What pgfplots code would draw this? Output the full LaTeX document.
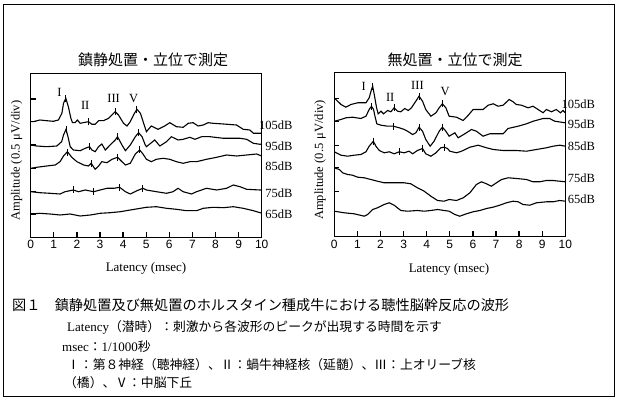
\documentclass[border=0pt]{standalone}
\usepackage{fontspec}
\setmainfont{Liberation Serif}
\newfontfamily\jp{Noto Sans CJK JP}
\newfontfamily\arial{Liberation Sans}
\usepackage{pgfplots}
\pgfplotsset{compat=1.18}
\pgfplotsset{
 ebr/.style={
  scale only axis, width=231bp, height=164bp,
  xmin=0, xmax=10, ymin=73, ymax=237, y dir=reverse,
  xtick={0,...,10}, tick align=inside, xtick pos=bottom, ytick pos=left,
  yticklabels={},
  major tick length=5bp,
  tick style={black, line width=1.3bp},
  axis line style={line width=0.9bp},
  xticklabel style={font=\arial\fontsize{12bp}{12bp}\selectfont},
  /pgf/number format/assume math mode=true,
  clip=false,
 },
 tr/.style={black, line width=1.1bp, mark=none},
 pk/.style={black, only marks, mark=|, mark size=3.5bp, mark options={line width=1bp}},
}
\begin{document}
\begin{tikzpicture}
\useasboundingbox (0,0) rectangle (618bp,400bp);
\draw[line width=0.9bp] (3.5bp,3.5bp) rectangle (614bp,395.5bp);

% ---------------- left panel ----------------
\begin{axis}[ebr, at={(30.7bp,163bp)}, anchor=south west,
  ytick={99,121.7,145,168.3,191.7,214}]
% 105 dB
\addplot[tr] coordinates {(0,121.7)(0.11,121.7)(0.40,120)(0.69,120.7)(0.98,121.3)(1.20,120)(1.35,113.3)(1.42,103.3)(1.52,98.3)(1.63,106.7)(1.74,118.3)(1.81,122.7)(1.92,122.7)(2.02,120)(2.14,123.3)(2.36,122.3)(2.50,121.7)(2.65,124.3)(2.79,124.3)(2.94,120.7)(3.15,120.7)(3.37,118.3)(3.59,113.3)(3.66,111.7)(3.80,115)(4.02,123.3)(4.17,126)(4.31,121.7)(4.49,113.3)(4.60,109.3)(4.75,113.3)(4.89,123.3)(5.01,131.7)(5.22,126)(5.51,129.3)(5.80,126)(6.02,122.7)(6.31,126.7)(6.60,127.3)(6.82,123.3)(7.03,122.7)(7.25,126)(7.47,125)(7.68,122.7)(7.90,123.3)(8.34,124)(8.91,125)(9.20,129.3)(9.49,130)(9.64,133.3)(9.93,133.3)(10,133.3)};
\addplot[pk] coordinates {(1.52,98.3)(2.50,121.7)(3.66,111.7)(4.60,109.3)};
% 95 dB
\addplot[tr] coordinates {(0,145)(0.26,146)(0.69,146.7)(1.13,146)(1.34,141.7)(1.42,135)(1.53,129.3)(1.63,138.3)(1.71,146.7)(1.85,150)(2.14,150.7)(2.36,148.3)(2.55,146.7)(2.65,150)(2.79,151.7)(2.94,146.7)(3.08,144)(3.23,150)(3.44,145)(3.66,140)(3.76,136.7)(3.95,145)(4.10,150.7)(4.31,145)(4.53,136.7)(4.67,132.7)(4.82,136.7)(4.96,145)(5.01,146.7)(5.37,140)(5.59,146)(5.88,141.7)(6.09,136.7)(6.38,140)(6.60,139.3)(6.89,137.3)(7.11,139.3)(7.40,136.7)(7.76,136.7)(8.34,138.3)(9.06,138.3)(9.35,139.3)(9.64,143.3)(9.93,144.3)(10,144)};
\addplot[pk] coordinates {(1.53,129.3)(2.55,146.7)(3.76,136.7)(4.67,132.7)};
% 85 dB
\addplot[tr] coordinates {(0,168.3)(0.26,167.3)(0.69,166)(1.06,165)(1.27,161.7)(1.42,156)(1.59,151.7)(1.78,157.3)(2.00,161.7)(2.29,165)(2.50,166)(2.62,163.3)(2.79,169.3)(2.94,166)(3.08,161.7)(3.30,162.7)(3.52,159.3)(3.76,157.3)(3.95,161.7)(4.10,165)(4.31,163.3)(4.53,154)(4.72,150)(4.86,154)(5.01,159.3)(5.22,161.7)(5.44,159.3)(5.73,158.3)(6.02,159.3)(6.31,161.7)(6.60,163.3)(6.89,161.7)(7.18,161.7)(7.61,159.3)(8.05,157.3)(8.48,155)(8.91,156)(9.35,155)(9.78,154)(10,156)};
\addplot[pk] coordinates {(1.61,152.3)(2.62,163.3)(3.76,157.3)(4.72,150)};
% 75 dB
\addplot[tr] coordinates {(0,191.7)(0.40,192.7)(0.84,193.3)(1.27,194)(1.49,191.7)(1.85,190)(2.07,191.7)(2.36,190)(2.72,191.7)(3.01,190)(3.30,188.3)(3.59,188.3)(3.85,187.3)(4.10,191.7)(4.31,194)(4.60,190.7)(4.86,188.3)(5.01,190)(5.44,191.7)(5.88,193.3)(6.16,191.7)(6.38,188.3)(6.60,191.7)(6.96,194)(7.18,191.7)(7.61,188.3)(8.05,190)(8.48,188.3)(8.77,185)(9.06,186.7)(9.35,189.3)(9.93,190)(10,190)};
\addplot[pk] coordinates {(1.85,190)(2.72,191.7)(3.85,187.3)(4.86,188.3)};
% 65 dB
\addplot[tr] coordinates {(0,214)(0.40,213.3)(0.84,214)(1.27,215)(1.71,214)(2.14,216)(2.58,215)(3.01,213.3)(3.44,212.7)(3.88,211.7)(4.31,210)(4.75,208.3)(5.01,207.3)(5.44,206.7)(5.88,208.3)(6.31,209.3)(6.74,210.7)(7.18,210.7)(7.47,208.3)(7.90,207.3)(8.34,207.7)(8.77,206.7)(9.20,208.3)(9.64,210.7)(9.93,212.7)(10,213)};
\begin{scope}[font=\fontsize{12.5bp}{12.5bp}\selectfont]
\node at (axis cs:1.24,92.7) {I};
\node at (axis cs:2.36,105) {II};
\node at (axis cs:3.59,98.3) {III};
\node at (axis cs:4.46,98.3) {V};
\end{scope}
\begin{scope}[font=\fontsize{12.5bp}{12.5bp}\selectfont]
\node[anchor=east] at (axis cs:11.48,125) {105dB};
\node[anchor=east] at (axis cs:11.48,146) {95dB};
\node[anchor=east] at (axis cs:11.48,166.7) {85dB};
\node[anchor=east] at (axis cs:11.48,193.3) {75dB};
\node[anchor=east] at (axis cs:11.48,214) {65dB};
\end{scope}
\end{axis}

% ---------------- right panel ----------------
\begin{axis}[ebr, at={(334.3bp,163.5bp)}, anchor=south west,
  ytick={99,121.7,145.7,168.3,191.7}]
% 105 dB
\addplot[tr] coordinates {(0,99)(0.07,100)(0.29,105)(0.50,107.7)(0.72,105)(1.01,103.3)(1.37,103.3)(1.51,98.3)(1.61,90)(1.66,86.7)(1.73,95)(1.83,108.3)(1.90,114.3)(2.02,111.7)(2.13,114.3)(2.31,111)(2.45,112.3)(2.59,108.3)(2.74,111.7)(2.88,112.3)(3.05,109)(3.20,111)(3.34,108.3)(3.53,101.7)(3.67,96.7)(3.82,101.7)(3.96,110)(4.18,116.7)(4.40,113.3)(4.54,108.3)(4.68,104.3)(4.83,108.3)(4.97,116.7)(5.29,117.7)(5.58,121)(5.80,115.7)(6.01,110)(6.44,110)(6.66,105.7)(6.88,104.3)(7.09,106.7)(7.31,105.7)(7.57,100)(7.74,102.3)(7.88,105)(8.10,105.7)(8.39,108.3)(8.60,106.7)(8.82,110)(9.04,113.3)(9.18,110)(9.40,112.3)(9.61,110)(9.79,113.3)(9.90,111)(10,113.3)};
\addplot[pk] coordinates {(1.66,86.7)(2.59,108.3)(3.67,96.7)(4.68,104.3)};
% 95 dB
\addplot[tr] coordinates {(0,121.7)(0.29,120)(0.50,118.3)(0.79,117.7)(1.15,119)(1.37,116.7)(1.51,110)(1.61,106.7)(1.70,110)(1.76,116.7)(1.84,124.3)(2.02,125.7)(2.31,126.7)(2.56,126.7)(2.81,128.3)(3.03,130)(3.17,131.7)(3.39,135)(3.53,133.3)(3.67,127.7)(3.82,131.7)(3.96,140)(4.15,146.7)(4.32,141.7)(4.54,131.7)(4.68,127.7)(4.83,131.7)(4.97,136.7)(5.22,133.3)(5.36,138.3)(5.65,134.3)(5.94,130)(6.15,131.7)(6.44,136.7)(6.73,134.3)(7.31,134.3)(7.52,129)(7.96,126.7)(8.32,124.3)(8.61,121.7)(9.04,119)(9.32,119)(9.54,121.7)(10,123.3)};
\addplot[pk] coordinates {(1.61,106.7)(2.56,126.7)(3.67,127.7)(4.68,127.7)};
% 85 dB
\addplot[tr] coordinates {(0,152.3)(0.29,155.7)(0.58,156.7)(0.86,155.7)(1.15,155)(1.37,152.3)(1.51,146.7)(1.69,141.7)(1.80,146.7)(1.95,151)(2.16,153.3)(2.38,152.3)(2.59,154.3)(2.81,152.3)(3.03,153.3)(3.24,151.7)(3.39,154.3)(3.60,151)(3.82,149)(3.96,154.3)(4.18,156.7)(4.40,153.3)(4.61,148.3)(4.76,147.7)(4.90,149)(5.0,151.7)(5.29,153.3)(5.51,151.7)(5.87,147.7)(6.23,145.7)(6.59,148.3)(6.88,150)(7.31,151)(7.88,151)(8.32,151.7)(8.75,150)(9.18,148.3)(9.47,146.7)(9.76,145.7)(10,146.7)};
\addplot[pk] coordinates {(1.69,141.7)(2.81,152.3)(3.82,149)(4.76,147.7)};
% 75 dB
\addplot[tr] coordinates {(0,168.3)(0.22,170)(0.36,173.3)(0.58,175)(0.79,175.7)(1.01,177.7)(1.30,178.3)(1.58,180)(1.87,181.7)(2.16,183.3)(2.59,183.3)(3.03,183.3)(3.31,184.3)(3.60,188.3)(3.89,191.7)(4.18,196.7)(4.47,201)(4.75,201.7)(4.97,200)(5.29,201)(5.58,198.3)(5.87,193.3)(6.15,185)(6.37,182.3)(6.59,184.3)(6.80,186.7)(7.02,183.3)(7.24,180)(7.53,178.3)(7.89,179)(8.32,180)(8.60,182.3)(8.89,182.3)(9.18,181)(9.47,181)(9.75,181.7)(10,182.3)};
% 65 dB
\addplot[tr] coordinates {(0,211.7)(0.43,213.3)(0.86,214.3)(1.30,216.7)(1.44,215)(1.66,210)(1.87,208.3)(2.16,205)(2.38,203.3)(2.59,205.7)(2.88,211)(3.17,211.7)(3.60,211)(3.89,211.7)(4.18,211)(4.47,210)(4.76,211)(4.97,211.7)(5.22,215)(5.43,216.7)(5.72,214.3)(6.01,212.3)(6.30,211)(6.59,209)(6.87,207.7)(7.16,205.7)(7.45,203.3)(7.74,201.7)(7.96,202.3)(8.17,205)(8.46,205.7)(8.75,203.3)(9.18,202.3)(9.47,202.3)(9.76,201)(10,201.7)};
\begin{scope}[font=\fontsize{12.5bp}{12.5bp}\selectfont]
\node at (axis cs:1.27,86.7) {I};
\node at (axis cs:2.42,98.3) {II};
\node at (axis cs:3.60,86) {III};
\node at (axis cs:4.80,91.7) {V};
\end{scope}
\begin{scope}[font=\fontsize{12.5bp}{12.5bp}\selectfont]
\node[anchor=east] at (axis cs:11.44,104.3) {105dB};
\node[anchor=east] at (axis cs:11.44,125) {95dB};
\node[anchor=east] at (axis cs:11.44,146.7) {85dB};
\node[anchor=east] at (axis cs:11.44,178.3) {75dB};
\node[anchor=east] at (axis cs:11.44,199.3) {65dB};
\end{scope}
\end{axis}

% titles and axis labels
\node[font=\jp\fontsize{15bp}{15bp}\selectfont] at (153bp,340bp) {鎮静処置・立位で測定};
\node[font=\jp\fontsize{15bp}{15bp}\selectfont] at (455bp,340bp) {無処置・立位で測定};
\node[font=\fontsize{13bp}{13bp}\selectfont] at (146bp,132bp) {Latency (msec)};
\node[font=\fontsize{13bp}{13bp}\selectfont] at (449bp,131bp) {Latency (msec)};
\node[rotate=90, font=\fontsize{12.5bp}{12.5bp}\selectfont] at (16.7bp,239.3bp) {Amplitude (0.5\,\,μV/div)};
\node[rotate=90, font=\fontsize{12.5bp}{12.5bp}\selectfont] at (320bp,240bp) {Amplitude (0.5\,\,μV/div)};

% caption
\node[anchor=west, inner sep=0pt, font=\jp\fontsize{14.2bp}{14.2bp}\selectfont] at (12bp,95bp) {図１　鎮静処置及び無処置のホルスタイン種成牛における聴性脳幹反応の波形};
\node[anchor=west, inner sep=0pt, font=\fontsize{13bp}{13bp}\selectfont] at (67bp,73bp) {Latency{\jp\fontsize{12.8bp}{12.8bp}\selectfont（潜時）：刺激から各波形のピークが出現する時間を示す}};
\node[anchor=west, inner sep=0pt, font=\fontsize{13bp}{13bp}\selectfont] at (62bp,53.3bp) {msec{\jp\fontsize{12.8bp}{12.8bp}\selectfont：}1/1000{\jp\fontsize{12.8bp}{12.8bp}\selectfont 秒}};
\node[anchor=west, inner sep=0pt, font=\jp\fontsize{12.8bp}{12.8bp}\selectfont] at (67bp,35bp) {Ⅰ：第８神経（聴神経）、Ⅱ：蝸牛神経核（延髄）、Ⅲ：上オリーブ核};
\node[anchor=west, inner sep=0pt, font=\jp\fontsize{12.8bp}{12.8bp}\selectfont] at (64bp,17bp) {（橋）、Ⅴ：中脳下丘};
\end{tikzpicture}
\end{document}
